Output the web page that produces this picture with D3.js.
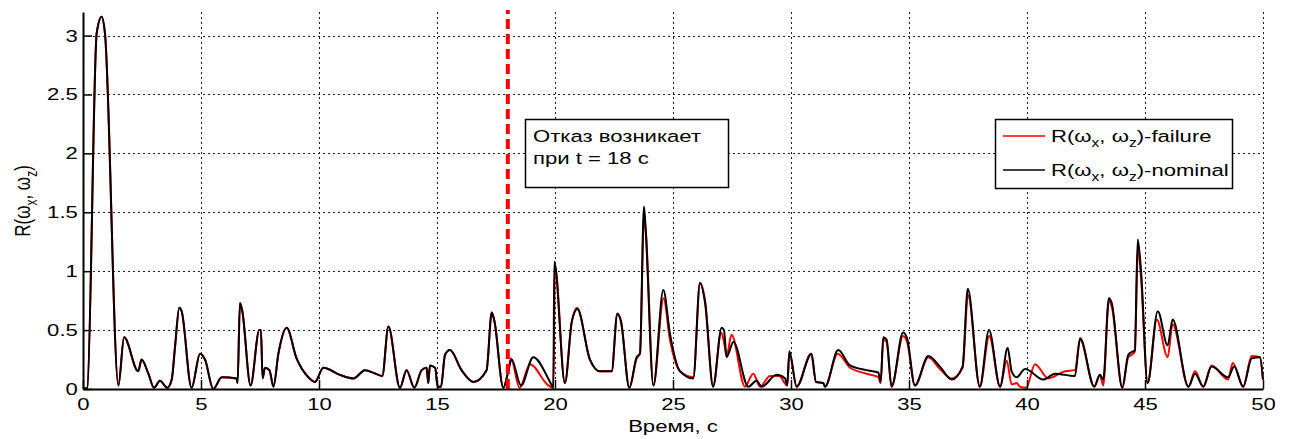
<!DOCTYPE html>
<html>
<head>
<meta charset="utf-8">
<script src="https://cdn.jsdelivr.net/npm/d3@7"></script>
<style>
  body { margin: 0; background: #fff; }
  text { font-family: "Liberation Sans", Arial, sans-serif; fill: #000; }
</style>
</head>
<body>
<script>
// nominal run (black)
var timeNominal = [0, 0.18, 0.58, 0.79, 0.93, 1.5, 1.74, 2.34, 2.48, 2.77, 3.01, 3.26, 3.57, 3.76, 3.9, 4.08, 4.18, 4.6, 4.96, 5.17, 5.52, 5.88, 6.51, 6.55, 6.65, 6.75, 7.1, 7.47, 7.54, 7.61, 7.71, 7.9, 8.07, 8.28, 8.63, 9.05, 9.55, 9.83, 10.18, 10.89, 11.17, 11.46, 11.95, 12.4, 12.68, 12.94, 13.43, 13.71, 14.04, 14.35, 14.56, 14.63, 14.7, 14.92, 15.03, 15.17, 15.34, 15.55, 16.04, 16.54, 17.1, 17.32, 17.43, 17.81, 18.02, 18.16, 18.56, 19.08, 19.79, 19.93, 19.97, 20.42, 20.71, 20.95, 21.48, 21.91, 22.4, 22.64, 22.79, 23.15, 23.46, 23.6, 23.77, 23.84, 24.17, 24.59, 24.87, 25.3, 25.86, 26.14, 26.36, 26.7, 27.06, 27.16, 27.27, 27.56, 28.19, 28.54, 28.76, 29.39, 29.75, 29.84, 29.93, 30.24, 30.87, 31.06, 31.37, 31.44, 32.0, 32.5, 33.2, 33.7, 33.8, 33.91, 34.05, 34.26, 34.75, 34.92, 35.25, 35.82, 36.31, 36.81, 37.27, 37.49, 38.0, 38.39, 38.86, 39.18, 39.35, 39.56, 39.92, 40.69, 41.19, 42.03, 42.25, 42.85, 43.09, 43.23, 43.47, 43.59, 44.04, 44.29, 44.5, 44.57, 44.69, 44.83, 45.11, 45.54, 45.96, 46.17, 46.84, 47.12, 47.47, 47.82, 48.52, 48.78, 49.16, 49.52, 49.87, 50];
var valueNominal = [0, 0.01, 3.02, 3.16, 3.02, 0.03, 0.44, 0.15, 0.25, 0.13, 0.01, 0.07, 0.01, 0.08, 0.36, 0.69, 0.66, 0.01, 0.30, 0.25, 0.0, 0.10, 0.09, 0.05, 0.73, 0.66, 0.03, 0.50, 0.50, 0.09, 0.18, 0.16, 0.02, 0.30, 0.52, 0.26, 0.10, 0.06, 0.18, 0.12, 0.10, 0.09, 0.16, 0.13, 0.11, 0.53, 0.01, 0.16, 0.01, 0.16, 0.18, 0.05, 0.20, 0.18, 0.02, 0.02, 0.29, 0.33, 0.16, 0.06, 0.16, 0.65, 0.58, 0.01, 0.15, 0.25, 0.03, 0.27, 0.06, 0.01, 1.08, 0.05, 0.57, 0.68, 0.25, 0.15, 0.15, 0.64, 0.58, 0.01, 0.27, 0.30, 1.55, 1.36, 0.03, 0.84, 0.47, 0.15, 0.09, 0.90, 0.73, 0.02, 0.52, 0.50, 0.27, 0.40, 0.02, 0.07, 0.02, 0.12, 0.09, 0.03, 0.32, 0.02, 0.30, 0.06, 0.05, 0.02, 0.33, 0.20, 0.16, 0.14, 0.06, 0.44, 0.42, 0.02, 0.48, 0.43, 0.03, 0.28, 0.19, 0.08, 0.19, 0.85, 0.02, 0.50, 0.02, 0.35, 0.15, 0.10, 0.17, 0.08, 0.13, 0.11, 0.43, 0.02, 0.12, 0.08, 0.77, 0.73, 0.01, 0.29, 0.32, 0.33, 1.27, 1.01, 0.05, 0.66, 0.37, 0.59, 0.02, 0.13, 0.02, 0.19, 0.10, 0.19, 0.02, 0.26, 0.27, 0.08];

// failure run (red) after the fault; before it both runs coincide
var faultTime = 18;
var timeFailure = [17.81, 18.02, 18.13, 18.5, 18.94, 19.72, 19.93, 20.0, 20.42, 20.71, 20.93, 21.48, 21.91, 22.4, 22.64, 22.79, 23.15, 23.46, 23.6, 23.77, 23.84, 24.17, 24.6, 24.87, 25.3, 25.86, 26.15, 26.36, 26.7, 27.04, 27.16, 27.27, 27.48, 28.05, 28.4, 28.69, 29.11, 29.5, 29.84, 29.93, 30.24, 30.85, 31.06, 31.37, 31.44, 31.98, 32.5, 33.2, 33.7, 33.8, 33.91, 34.05, 34.26, 34.75, 34.92, 35.25, 35.82, 36.31, 36.81, 37.27, 37.5, 38.0, 38.4, 38.86, 39.14, 39.35, 39.56, 39.7, 39.96, 40.34, 40.9, 41.61, 42.03, 42.25, 42.85, 43.09, 43.23, 43.47, 43.59, 44.04, 44.29, 44.5, 44.57, 44.7, 44.83, 45.11, 45.5, 45.96, 46.17, 46.84, 47.12, 47.47, 47.82, 48.52, 48.72, 49.16, 49.52, 49.87, 50];
var valueFailure = [0.01, 0.15, 0.26, 0.01, 0.21, 0.03, 0.01, 1.04, 0.05, 0.57, 0.69, 0.25, 0.15, 0.15, 0.63, 0.58, 0.01, 0.26, 0.30, 1.45, 1.36, 0.03, 0.77, 0.42, 0.15, 0.10, 0.90, 0.75, 0.02, 0.48, 0.40, 0.28, 0.46, 0.02, 0.13, 0.02, 0.11, 0.11, 0.03, 0.30, 0.02, 0.30, 0.06, 0.05, 0.02, 0.30, 0.18, 0.13, 0.10, 0.05, 0.42, 0.40, 0.02, 0.45, 0.40, 0.03, 0.27, 0.17, 0.09, 0.18, 0.80, 0.02, 0.45, 0.02, 0.24, 0.04, 0.05, 0.02, 0.01, 0.21, 0.09, 0.15, 0.16, 0.42, 0.02, 0.12, 0.03, 0.75, 0.70, 0.01, 0.27, 0.30, 0.32, 1.20, 0.95, 0.05, 0.59, 0.27, 0.55, 0.02, 0.15, 0.02, 0.20, 0.08, 0.22, 0.02, 0.28, 0.27, 0.08];

var xTicks = [0, 5, 10, 15, 20, 25, 30, 35, 40, 45, 50];
var yTicks = [0, 0.5, 1, 1.5, 2, 2.5, 3];
var yTickLabels = ['0', '0.5', '1', '1.5', '2', '2.5', '3'];

var svg = d3.select('body').append('svg').attr('width', 1290).attr('height', 439);

var plotLeft = 83, plotRight = 1263, plotTop = 12, plotBottom = 389;
var stretch = 1.3; // the picture's glyphs are wide

var x = d3.scaleLinear().domain([0, 50]).range([plotLeft, plotRight]);
var y = d3.scaleLinear().domain([0, 3.2]).range([plotBottom, plotTop]);

// grid
var grid = svg.append('g').attr('stroke', '#222').attr('stroke-width', 1).attr('stroke-dasharray', '2,3');
grid.selectAll('line.v').data(xTicks.slice(1)).enter().append('line')
  .attr('x1', function(d) { return Math.round(x(d)) + 0.5; })
  .attr('x2', function(d) { return Math.round(x(d)) + 0.5; })
  .attr('y1', plotBottom).attr('y2', plotTop);
grid.selectAll('line.h').data(yTicks.slice(1)).enter().append('line')
  .attr('x1', plotLeft).attr('x2', plotRight)
  .attr('y1', function(d) { return Math.round(y(d)) + 0.5; })
  .attr('y2', function(d) { return Math.round(y(d)) + 0.5; });

// series
var pairs = function(ts, vs) { return ts.map(function(t, i) { return [t, vs[i]]; }); };
var nominal = pairs(timeNominal, valueNominal);
var failure = nominal.filter(function(d) { return d[0] < timeFailure[0]; }).concat(pairs(timeFailure, valueFailure));

var line = d3.line().curve(d3.curveMonotoneX)
  .x(function(d) { return x(d[0]); }).y(function(d) { return y(d[1]); });

svg.append('path').datum(failure).attr('d', line)
  .attr('fill', 'none').attr('stroke', '#ff0000').attr('stroke-width', 2).attr('stroke-linejoin', 'round');
svg.append('path').datum(nominal).attr('d', line)
  .attr('fill', 'none').attr('stroke', '#000').attr('stroke-width', 2).attr('stroke-linejoin', 'round');

// fault marker
svg.append('line')
  .attr('x1', x(faultTime)).attr('x2', x(faultTime))
  .attr('y1', plotBottom).attr('y2', plotTop - 2)
  .attr('stroke', '#ff0000').attr('stroke-width', 4).attr('stroke-dasharray', '10,5');

// axes
var xAxis = svg.append('g').attr('transform', 'translate(0,' + plotBottom + ')')
  .call(d3.axisBottom(x).tickValues(xTicks).tickSizeInner(-9).tickSizeOuter(0).tickPadding(9));
var yAxis = svg.append('g').attr('transform', 'translate(' + plotLeft + ',0)')
  .call(d3.axisLeft(y).tickValues(yTicks).tickFormat(function(d, i) { return yTickLabels[i]; })
    .tickSizeInner(-9).tickSizeOuter(0).tickPadding(4));

[xAxis, yAxis].forEach(function(g) {
  g.selectAll('text').attr('font-size', 17).style('font-family', '"Liberation Sans", Arial, sans-serif')
    .attr('fill', '#000').attr('transform', 'scale(' + stretch + ',1)');
  g.selectAll('line').attr('stroke', '#000').attr('stroke-width', 1.5);
  g.select('.domain').attr('stroke', '#000').attr('stroke-width', 2);
});

// text helpers
var label = function(parent, tx, ty, str, anchor) {
  return parent.append('text')
    .attr('transform', 'translate(' + tx + ',' + ty + ') scale(' + stretch + ',1)')
    .attr('text-anchor', anchor || 'start').attr('font-size', 17).text(str);
};
var omegaPair = function(t, tail) {
  t.append('tspan').text('R(ω');
  t.append('tspan').attr('font-size', 12).attr('dy', 5).text('x');
  t.append('tspan').attr('dy', -5).text(', ω');
  t.append('tspan').attr('font-size', 12).attr('dy', 5).text('z');
  t.append('tspan').attr('dy', -5).text(tail);
};

// axis labels
label(svg, 673, 432, 'Время, с', 'middle');

var yLabel = svg.append('text').attr('transform', 'translate(30,201) rotate(-90) scale(1,' + stretch + ')')
  .attr('text-anchor', 'middle').attr('font-size', 17);
omegaPair(yLabel, ')');

// annotation box
var note = svg.append('g');
note.append('rect').attr('x', 525.5).attr('y', 119.5).attr('width', 203).attr('height', 68)
  .attr('fill', '#fff').attr('stroke', '#000').attr('stroke-width', 1.5);
label(note, 533, 142, 'Отказ возникает');
label(note, 533, 164, 'при t = 18 с');

// legend
var legendItems = [
  { name: '-failure', color: '#ff0000' },
  { name: '-nominal', color: '#000' }
];
var legend = svg.append('g');
legend.append('rect').attr('x', 995.5).attr('y', 119.5).attr('width', 237).attr('height', 69)
  .attr('fill', '#fff').attr('stroke', '#000').attr('stroke-width', 1.5);
var items = legend.selectAll('g.item').data(legendItems).enter().append('g')
  .attr('transform', function(d, i) { return 'translate(0,' + (136 + i * 34) + ')'; });
items.append('line').attr('x1', 1003).attr('x2', 1045).attr('y1', 0).attr('y2', 0)
  .attr('stroke', function(d) { return d.color; }).attr('stroke-width', 1.5);
items.each(function(d) {
  var t = label(d3.select(this), 1051, 6, '');
  omegaPair(t, ')' + d.name);
});
</script>
</body>
</html>
